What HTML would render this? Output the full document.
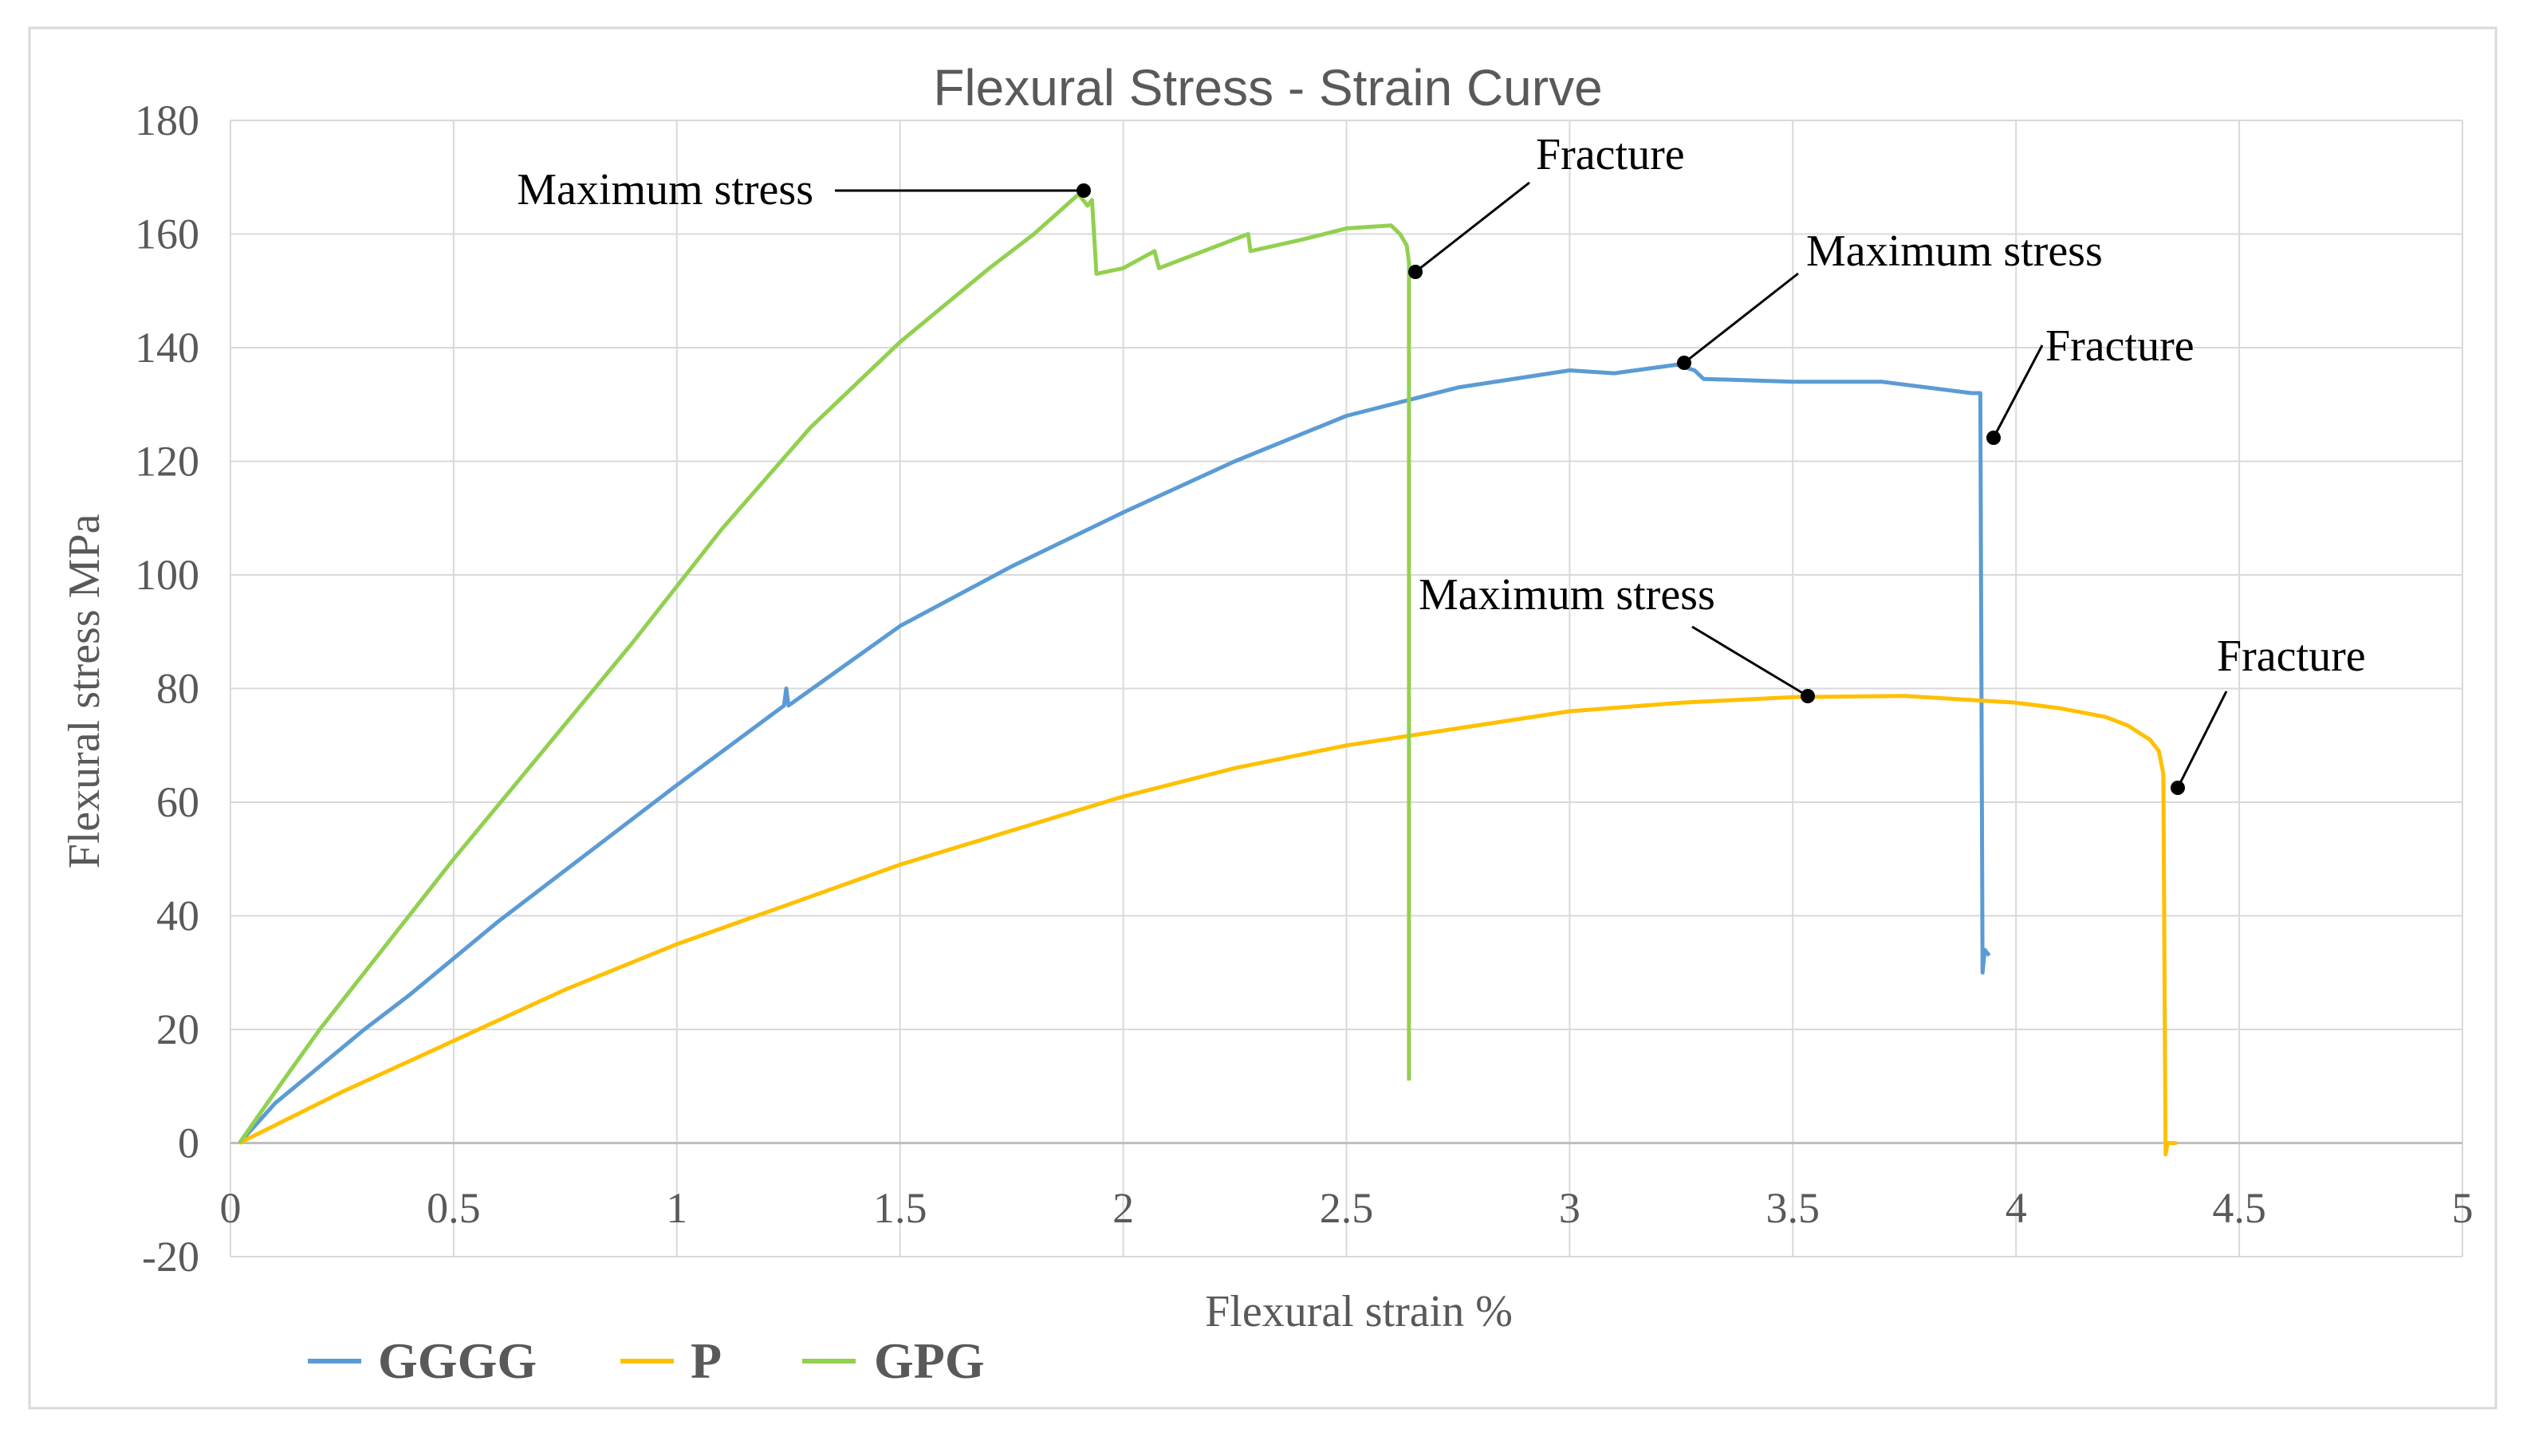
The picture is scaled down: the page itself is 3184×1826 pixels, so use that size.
<!DOCTYPE html>
<html><head><meta charset="utf-8"><style>
html,body{margin:0;padding:0;background:#fff}
svg{display:block}
</style></head><body>
<svg id="chart" width="3184" height="1826" viewBox="0 0 3184 1826" xmlns="http://www.w3.org/2000/svg">
<rect x="37" y="35" width="3093" height="1731" fill="#fff" stroke="#d9d9d9" stroke-width="3"/>
<text x="1590" y="132" text-anchor="middle" font-family="Liberation Sans, sans-serif" font-size="64" fill="#595959">Flexural Stress - Strain Curve</text>
<g id="grid"></g>
<g id="ticks"></g>
<g id="series"></g>
<g id="annot"></g>
<text x="1704" y="1663" text-anchor="middle" font-family="Liberation Serif, serif" font-size="56" fill="#595959">Flexural strain %</text>
<text transform="translate(124,867) rotate(-90)" text-anchor="middle" font-family="Liberation Serif, serif" font-size="56" fill="#595959">Flexural stress MPa</text>
<g font-family="Liberation Serif, serif" font-weight="bold" font-size="64" fill="#595959">
<line x1="386" y1="1707" x2="453" y2="1707" stroke="#5b9bd5" stroke-width="6"/>
<text x="474" y="1728">GGGG</text>
<line x1="778" y1="1707" x2="845" y2="1707" stroke="#ffc000" stroke-width="6"/>
<text x="866" y="1728">P</text>
<line x1="1006" y1="1707" x2="1073" y2="1707" stroke="#92d050" stroke-width="6"/>
<text x="1096" y="1728">GPG</text>
</g>
</svg>
<script>
const xTicks = [0, 0.5, 1, 1.5, 2, 2.5, 3, 3.5, 4, 4.5, 5];
const yTicks = [-20, 0, 20, 40, 60, 80, 100, 120, 140, 160, 180];
const ggggX = [0.02,0.1,0.2,0.3,0.4,0.6,0.8,1,1.24,1.245,1.25,1.5,1.75,2,2.25,2.5,2.75,3,3.1,3.24,3.28,3.3,3.5,3.7,3.9,3.92,3.925,3.93,3.94];
const ggggY = [0,7,13.5,20,26,39,51,63,77,80,77,91,101.5,111,120,128,133,136,135.5,137,136,134.5,134,134,132,132,30,34,33];
const pX = [0.02,0.25,0.5,0.75,1,1.25,1.5,1.75,2,2.25,2.5,2.75,3,3.25,3.5,3.75,4,4.1,4.2,4.25,4.3,4.32,4.33,4.335,4.34,4.36];
const pY = [0,9,18,27,35,42,49,55,61,66,70,73,76,77.5,78.5,78.7,77.5,76.5,75,73.5,71,69,65,-2,0,0];
const gpgX = [0.02,0.1,0.2,0.3,0.5,0.7,0.9,1.1,1.3,1.5,1.7,1.8,1.9,1.92,1.93,1.94,2.0,2.07,2.08,2.28,2.285,2.4,2.5,2.6,2.62,2.635,2.64,2.64];
const gpgY = [0,9,20,30,50,69,88,108,126,141,154,160,167,165,166,153,154,157,154,160,157,159,161,161.5,160,158,155,11];

const X0=289, X1=3088, Y0=1576, Y1=151;
const sx = v => X0 + (v-0)/(5-0)*(X1-X0);
const sy = v => Y0 - (v+20)/(200)*(Y0-Y1);
const NS='http://www.w3.org/2000/svg';
function mk(tag, attrs, parent){const e=document.createElementNS(NS,tag);for(const k in attrs)e.setAttribute(k,attrs[k]);parent.appendChild(e);return e;}
const grid=document.getElementById('grid'), ticks=document.getElementById('ticks'), series=document.getElementById('series'), annot=document.getElementById('annot');
xTicks.forEach(t=>{
  const l=mk('line',{x1:sx(t),x2:sx(t),y1:Y1,y2:Y0,stroke:'#d9d9d9','stroke-width':2},grid);
  
  
  const tx=mk('text',{x:sx(t),y:1533,'text-anchor':'middle','font-family':'Liberation Serif, serif','font-size':54,fill:'#595959'},ticks);
  tx.textContent=t;
  
  
});
yTicks.forEach(t=>{
  const l=mk('line',{x1:X0,x2:X1,y1:sy(t),y2:sy(t),stroke:t===0?'#bfbfbf':'#d9d9d9','stroke-width':t===0?3:2},grid);
  
  
  const tx=mk('text',{x:250,y:sy(t)+18,'text-anchor':'end','font-family':'Liberation Serif, serif','font-size':54,fill:'#595959'},ticks);
  tx.textContent=t;
  
  
});
function line(xs,ys,color,name){
  const d=xs.map((x,i)=>(i?'L':'M')+sx(x).toFixed(1)+','+sy(ys[i]).toFixed(1)).join(' ');
  const p=mk('path',{d:d,fill:'none',stroke:color,'stroke-width':5,'stroke-linejoin':'round'},series);
  
  
}
line(ggggX,ggggY,'#5b9bd5','series-gggg');
line(pX,pY,'#ffc000','series-p');
line(gpgX,gpgY,'#92d050','series-gpg');
const notes=[
 {dot:[1359,239],to:[1047,239],text:'Maximum stress',tx:1020,ty:256,anchor:'end',name:'gpg-max-annotation'},
 {dot:[1775,341],to:[1918,229],text:'Fracture',tx:1926,ty:212,anchor:'start',name:'gpg-fracture-annotation'},
 {dot:[2112,455],to:[2255,343],text:'Maximum stress',tx:2265,ty:333,anchor:'start',name:'gggg-max-annotation'},
 {dot:[2500,549],to:[2561,433],text:'Fracture',tx:2565,ty:452,anchor:'start',name:'gggg-fracture-annotation'},
 {dot:[2267,873],to:[2122,786],text:'Maximum stress',tx:1779,ty:764,anchor:'start',name:'p-max-annotation'},
 {dot:[2731,988],to:[2792,867],text:'Fracture',tx:2780,ty:841,anchor:'start',name:'p-fracture-annotation'}
];
notes.forEach(n=>{
  const g=mk('g',{},annot);
  
  
  mk('line',{x1:n.dot[0],y1:n.dot[1],x2:n.to[0],y2:n.to[1],stroke:'#000','stroke-width':3},g);
  mk('circle',{cx:n.dot[0],cy:n.dot[1],r:9,fill:'#000'},g);
  const t=mk('text',{x:n.tx,y:n.ty,'text-anchor':n.anchor,'font-family':'Liberation Serif, serif','font-size':56,fill:'#000'},g);
  t.textContent=n.text;
});
</script>
</body></html>
